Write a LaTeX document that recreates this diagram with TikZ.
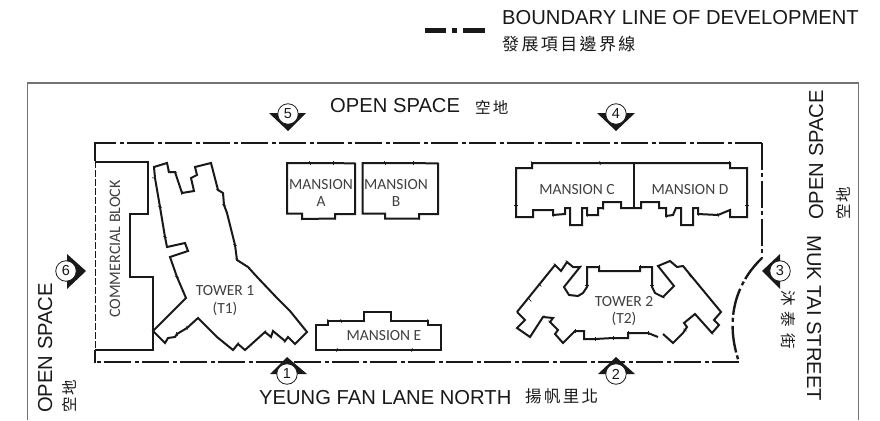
\documentclass[tikz,border=0pt]{standalone}
\usepackage{fontspec}
\setmainfont{Liberation Sans}
\newfontfamily\cjk[LetterSpace=14]{Noto Sans CJK TC}
\newfontfamily\plan{Carlito}
\tikzset{>=latex}
\definecolor{ink}{gray}{0.1}
\definecolor{labelink}{gray}{0.25}
\tikzset{
  bigtext/.style={text=ink,inner sep=0pt,font=\fontsize{20.2}{20.2}\selectfont},
  cjktext/.style={text=ink,inner sep=0pt,font=\fontsize{15.5}{15.5}\selectfont\cjk},
  plantext/.style={text=labelink,inner sep=0pt,align=center,font=\fontsize{15.5}{17.5}\selectfont\plan},
  building/.style={draw=ink,line width=2pt,line join=miter},
  boundary/.style={draw=ink,line width=2.9pt,dash pattern=on 27pt off 3pt on 4pt off 4pt},
  markcircle/.style={circle,draw=ink,fill=white,line width=0.8pt,minimum size=20.5pt,inner sep=0pt,text=ink,font=\fontsize{14.5}{14.5}\selectfont},
  marktip/.style={fill=ink,draw=none},
  nick/.style={draw=ink,line width=0.6pt}
}
\begin{document}
\begin{tikzpicture}[x=1pt,y=-1pt]
  \useasboundingbox (0,0) rectangle (880,420);
  % frame, open at the bottom
  \draw[black!55,line width=1.1pt] (27.5,420) -- (27.5,83) -- (858.5,83) -- (858.5,420);
  % legend
  \draw[boundary,line width=4.2pt,dash pattern=on 21pt off 6pt on 5pt off 6pt on 22pt] (425,30.5) -- (485,30.5);
  \node[bigtext,anchor=base west] (legendtext) at (502,25) {BOUNDARY LINE OF DEVELOPMENT};
  \node[cjktext,anchor=west,font=\fontsize{17}{17}\selectfont\cjk] (legendcjk) at (502,44.5) {發展項目邊界線};
  % boundary line
  \draw[boundary] (762,143) -- (95,143);
  \draw[boundary,line width=2pt] (762,143) -- (762,258);
  \draw[boundary,line width=2.4pt] (762,258) .. controls (742,277) and (722,312) .. (739,362);
  \draw[boundary] (739,362) -- (95,362);
  \draw[ink,line width=2.9pt] (95,363.4) -- (95,350) (95,141.6) -- (95,161);
  \draw[boundary,line width=1pt,dash pattern=on 7pt off 2pt] (95,161) -- (95,350);
  % commercial block
  \draw[building] (95,161.5) -- (148,161.5) -- (148,214) -- (130,214) -- (130,277) -- (153,277) -- (153,350) -- (95,350);
  \node[plantext,rotate=90,font=\fontsize{16}{17.5}\selectfont\plan] (commercial) at (115,249) {COMMERCIAL BLOCK};
  % tower 1
  \draw[building] (154,167) -- (167,163) -- (169,172) -- (175,172) -- (182,193) -- (194,191) -- (191,178) -- (197,175) -- (195,167) -- (211,163) -- (218,190) -- (223,193) -- (224,205) -- (227,213) -- (235,245) -- (237,260) -- (248,267) -- (258,278) -- (277,298) -- (290,311) -- (307,332) -- (295,344) -- (288,337) -- (285,341) -- (273,331) -- (271,337) -- (265,332) -- (245,350) -- (238,344) -- (233,350) -- (217,337) -- (198,318) -- (187,328) -- (177,334) -- (175,337) -- (168,338) -- (165,343) -- (153,331) -- (186,298) -- (177,277) -- (170,257) -- (188,251) -- (185,243) -- (167,247) -- (165,237) -- (160,207) -- (155,178) -- cycle;
  \node[plantext] (towerone) at (225,300.5) {TOWER 1\\(T1)};
  % mansions A and B
  \draw[building] (287,163) -- (333,163) -- (355,163.5) -- (355,214) -- (335,214) -- (335,218.5) -- (302,219) -- (302,213.5) -- (287,213.5) -- cycle;
  \node[plantext] (mansiona) at (321,193) {MANSION\\A};
  \draw[building] (362.5,163) -- (413,163) -- (438,163.5) -- (438,214) -- (419,214) -- (419,218.5) -- (385,218.5) -- (385,213.5) -- (362.5,213.5) -- cycle;
  \node[plantext] (mansionb) at (396,193) {MANSION\\B};
  % mansion E
  \draw[building] (316,325) -- (328,325) -- (328,321) -- (364,321) -- (364,312) -- (391,312) -- (391,321) -- (428,321) -- (428,325) -- (441,325) -- (441,350) -- (316,350) -- cycle;
  \node[plantext] (mansione) at (384,336) {MANSION E};
  % mansions C and D
  \draw[building] (516,168) -- (532,168) -- (532,163) -- (730,163) -- (730,168) -- (747,168) -- (747,217) -- (730,217) -- (730,210) -- (718,215) -- (698,214) -- (698,208) -- (693,208) -- (693,225) -- (681,225) -- (681,208) -- (676,208) -- (673,215) -- (666,216) -- (666,208) -- (659,208) -- (659,202) -- (641,202) -- (641,208) -- (621,208) -- (621,202) -- (603,202) -- (603,208) -- (598,208) -- (598,215) -- (587,215) -- (587,208) -- (582,208) -- (582,225) -- (570,225) -- (570,208) -- (565,208) -- (565,214) -- (553,215) -- (553,210) -- (533,210) -- (533,217) -- (516,217) -- cycle;
  \draw[building] (634,163) -- (634,208);
  \node[plantext] (mansionc) at (577,190) {MANSION C};
  \node[plantext] (mansiond) at (690,190) {MANSION D};
  % tower 2
  \draw[building] (517,312) -- (555,265) -- (561,271) -- (567,262) -- (573,267) -- (580,267) -- (564,287) -- (569,295) -- (578,296) -- (583,293) -- (587,287) -- (587,267) -- (599,267) -- (599,271) -- (640,271) -- (640,267) -- (652,267) -- (652,287) -- (655,293) -- (663,297) -- (674,286) -- (658,266) -- (670,261) -- (677,267) -- (683,266) -- (721,312) -- (714,320) -- (719,325) -- (712,333) -- (695,314) -- (684,323) -- (687,327) -- (683,333) -- (678,338) -- (673,343) -- (663,334);
  \draw[building] (658,337) -- (648,333) -- (628,333) -- (628,338) -- (613,338) -- (595,339) -- (584,339) -- (584,331) -- (575,331) -- (563,343) -- (555,334) -- (558,330) -- (550,322) -- (553,318) -- (543,317) -- (530,337) -- (517,328) -- (525,320) -- (517,312);
  \node[plantext] (towertwo) at (624,311) {TOWER 2\\(T2)};
  % small nicks on the outlines
  \foreach \x/\y/\a in {154/178/10, 160/207/10, 165/237/10, 169/172/35, 175/172/10, 182/193/100, 218/190/10, 224/205/10, 235/245/10, 237/260/40, 248/267/40, 277/298/40, 290/311/40, 177/277/10, 177/334/70, 187/328/60, 217/337/60, 238/344/120, 265/332/120, 285/341/120, 310/163/70, 333/163/90, 335/218/80, 385/163/70, 413/163/90, 419/218/80, 532/163/60, 600/163/80, 730/163/70, 516/205/0, 747/205/0, 553/215/80, 587/215/80, 603/208/80, 666/216/80, 698/214/80, 718/215/80, 555/265/50, 540/285/50, 567/262/50, 580/267/130, 587/285/0, 652/285/0, 663/297/40, 640/267/90, 599/267/90, 690/276/50, 530/300/50, 543/317/130, 550/322/40, 628/333/90, 613/338/90, 595/339/90, 575/331/90, 648/333/90, 712/333/50, 685/330/40, 328/321/80, 341/321/80, 337/350/100, 412/350/100, 428/321/80}
    \draw[nick] (\x,\y) ++(\a:2) -- ++(\a+180:4);
  % site labels
  \node[bigtext,anchor=base west] (opentop) at (330,112) {OPEN SPACE};
  \node[cjktext,anchor=west] (opentopcjk) at (475,107) {空地};
  \node[bigtext,anchor=base west] (yeung) at (259,404) {YEUNG FAN LANE NORTH};
  \node[cjktext,anchor=west,font=\fontsize{16.5}{16.5}\selectfont\cjk] (yeungcjk) at (525,396) {揚帆里北};
  \node[bigtext,rotate=90,anchor=base west] (openleft) at (52,413) {OPEN SPACE};
  \node[cjktext,rotate=90,anchor=west] (openleftcjk) at (69,413) {空地};
  \node[bigtext,rotate=90,anchor=base west] (openright) at (823,220) {OPEN SPACE};
  \node[cjktext,rotate=90,anchor=west] (openrightcjk) at (843,220) {空地};
  \node[bigtext,rotate=-90,anchor=base west] (muk) at (807,235) {MUK TAI STREET};
  \node[cjktext,rotate=-90,anchor=west] (mukcjk) at (788,290) {沐\hspace{6pt}泰\hspace{6pt}街};
  % view points
  \fill[marktip] (287,357) -- (307,374) -- (270,374) -- cycle;
  \node[markcircle] (viewa) at (287,374) {1};
  \fill[marktip] (616,357) -- (635,374) -- (598,374) -- cycle;
  \node[markcircle] (viewb) at (616,374) {2};
  \fill[marktip] (762,271) -- (780,254) -- (780,289) -- cycle;
  \node[markcircle] (viewc) at (780,271) {3};
  \fill[marktip] (616,131) -- (597,113) -- (635,113) -- cycle;
  \node[markcircle] (viewd) at (616,114) {4};
  \fill[marktip] (288,131) -- (269,113) -- (306,113) -- cycle;
  \node[markcircle] (viewe) at (288,114) {5};
  \fill[marktip] (86,271) -- (67,254) -- (67,289) -- cycle;
  \node[markcircle] (viewf) at (66,271) {6};
\end{tikzpicture}
\end{document}
